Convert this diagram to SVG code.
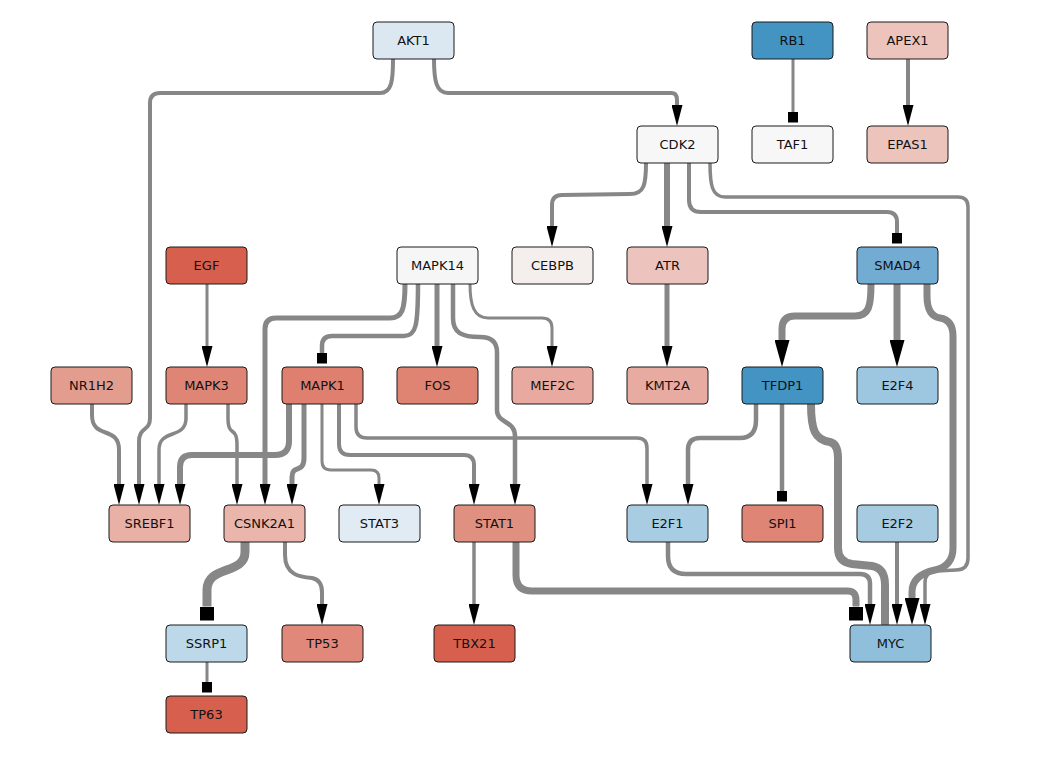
<svg xmlns="http://www.w3.org/2000/svg" width="1038" height="760" viewBox="0 0 1038 760">
<style>
.n rect{stroke:#1a1a1a;stroke-width:1}
.n text{font-family:"DejaVu Sans","Liberation Sans",sans-serif;font-size:13px;text-anchor:middle;dominant-baseline:central;fill:#111}
#edges path{fill:none;stroke:#878787}
.w3{stroke-width:3}.w35{stroke-width:3.5}.w4{stroke-width:4}.w45{stroke-width:4.5}.w5{stroke-width:5}.w6{stroke-width:6}.w7{stroke-width:7}.w8{stroke-width:8}.w9{stroke-width:9}
.a{marker-end:url(#arr)}.A{marker-end:url(#arrB)}.s{marker-end:url(#sq)}.S{marker-end:url(#sqB)}
</style>
<defs>
<marker id="arr" markerUnits="userSpaceOnUse" viewBox="0 0 21 11" markerWidth="21" markerHeight="11" refX="0" refY="5.5" orient="auto"><path d="M0,0 L21,5.5 L0,11 z" fill="#000"/></marker>
<marker id="arrB" markerUnits="userSpaceOnUse" viewBox="0 0 27 15" markerWidth="27" markerHeight="15" refX="0" refY="7.5" orient="auto"><path d="M0,0 L27,7.5 L0,15 z" fill="#000"/></marker>
<marker id="sq" markerUnits="userSpaceOnUse" viewBox="0 0 10.5 10.5" markerWidth="10.5" markerHeight="10.5" refX="0" refY="5.25" orient="auto"><rect x="0" y="0" width="10.5" height="10.5" fill="#000"/></marker>
<marker id="sqB" markerUnits="userSpaceOnUse" viewBox="0 0 14 14" markerWidth="14" markerHeight="14" refX="0" refY="7" orient="auto"><rect x="0" y="0" width="14" height="14" fill="#000"/></marker>
</defs>
<rect width="1038" height="760" fill="#fff"/>
<g id="edges">
<path class="w4 a" d="M393,59 C393,80 392,93 380,93 L160,93 Q150,93 150,103 L150,418 C150,432 139,426 139,442 L139,484"/>
<path class="w4 a" d="M434,59 C434,80 436,93 448,93 L670,93 Q677,92 677,100 L677,105"/>
<path class="w3 s" d="M793,59 L793,112"/>
<path class="w4 a" d="M908,59 L908,105"/>
<path class="w4 a" d="M646,163 C646,185 644,194 630,194 L562,195 Q552,195 552,205 L552,226"/>
<path class="w6 a" d="M667,163 L667,226"/>
<path class="w4 s" d="M689,163 L689,200 Q689,212 701,212 L887,212 Q897,212 897,222 L897,233"/>
<path class="w35 a" d="M710,163 C710,185 712,197 725,197 L958,197 Q968,197 968,207 L968,558 Q968,570 956,570 L937,571 Q925,571 925,583 L925,604"/>
<path class="w3 a" d="M207,284 L207,346"/>
<path class="w5 a" d="M405,284 C405,310 402,318 390,318 L276,318 Q265,318 265,329 L265,484"/>
<path class="w45 s" d="M418,284 C418,326 416,336 404,336 L332,336 Q322,336 322,346 L322,353"/>
<path class="w5 a" d="M437,284 L437,346"/>
<path class="w45 a" d="M453,284 L453,318 C453,333 462,337 480,337 Q497,337 497,352 L497,410 C497,424 515,420 515,436 L515,484"/>
<path class="w3 a" d="M470,284 C470,305 474,318 488,318 L542,318 Q552,318 552,328 L552,346"/>
<path class="w5 a" d="M667,284 L667,346"/>
<path class="w7 A" d="M871,284 C871,306 869,316 855,316 L795,316 Q782,316 782,329 L782,340"/>
<path class="w7 A" d="M897,284 L897,340"/>
<path class="w7 A" d="M927,284 L927,296 Q927,316 940,318 Q953,320 953,336 L953,548 Q953,566 935,570 Q912,575 912,592 L912,598"/>
<path class="w4 a" d="M92,404 L92,415 C92,440 119,425 119,450 L119,484"/>
<path class="w35 a" d="M186,404 L186,418 C186,440 159,428 159,450 L159,484"/>
<path class="w35 a" d="M228,404 L228,418 C228,438 237,425 237,445 L237,484"/>
<path class="w6 a" d="M289,404 L289,441 Q289,455 275,455 L192,455 Q180,455 180,467 L180,484"/>
<path class="w5 a" d="M304,404 L304,458 C304,474 292,464 292,477 L292,484"/>
<path class="w3 a" d="M322,404 L322,461 Q322,470 331,470 L371,470 Q379,470 379,478 L379,484"/>
<path class="w4 a" d="M339,404 L339,444 Q339,455 350,455 L464,455 Q474,455 474,465 L474,484"/>
<path class="w35 a" d="M356,404 L356,427 Q356,438 367,438 L637,438 Q647,438 647,448 L647,484"/>
<path class="w45 a" d="M756,404 L756,420 Q756,438 740,438 L700,438 Q688,438 688,450 L688,484"/>
<path class="w45 s" d="M782,404 L782,491"/>
<path class="w8" d="M811,404 C811,430 815,440 830,442 Q838,444 838,458 L838,548 Q838,562 852,564 L872,566 Q885,568 885,585 L885,625"/>
<path class="w7 S" d="M516,542 L516,575 Q516,591 532,591 L846,591 Q856,590 856,600 L856,606.5"/>
<path class="w45 a" d="M668,542 L668,556 Q668,574 686,574 L860,574 Q870,574 870,584 L870,604"/>
<path class="w4 a" d="M897,542 L897,604"/>
<path class="w9 S" d="M245,542 L245,552 C245,575 207,565 207,590 L207,606.5"/>
<path class="w4 a" d="M285,542 L285,555 C285,575 300,577 312,578 Q322,580 322,592 L322,604"/>
<path class="w3 s" d="M207,662 L207,682"/>
<path class="w35 a" d="M474,542 L474,604"/>
</g>
<g id="AKT1" class="n"><rect x="373" y="22" width="81" height="37" rx="4" fill="#dbe8f1"/><text x="413.5" y="40.5">AKT1</text></g>
<g id="RB1" class="n"><rect x="752" y="22" width="81" height="37" rx="4" fill="#4393c3"/><text x="792.5" y="40.5">RB1</text></g>
<g id="APEX1" class="n"><rect x="867" y="22" width="81" height="37" rx="4" fill="#edc4bc"/><text x="907.5" y="40.5">APEX1</text></g>
<g id="CDK2" class="n"><rect x="637" y="126" width="81" height="37" rx="4" fill="#f7f7f7"/><text x="677.5" y="144.5">CDK2</text></g>
<g id="TAF1" class="n"><rect x="752" y="126" width="81" height="37" rx="4" fill="#f7f7f7"/><text x="792.5" y="144.5">TAF1</text></g>
<g id="EPAS1" class="n"><rect x="867" y="126" width="81" height="37" rx="4" fill="#edc4bc"/><text x="907.5" y="144.5">EPAS1</text></g>
<g id="EGF" class="n"><rect x="166" y="247" width="81" height="37" rx="4" fill="#d6604d"/><text x="206.5" y="265.5">EGF</text></g>
<g id="MAPK14" class="n"><rect x="397" y="247" width="81" height="37" rx="4" fill="#f7f6f6"/><text x="437.5" y="265.5">MAPK14</text></g>
<g id="CEBPB" class="n"><rect x="512" y="247" width="81" height="37" rx="4" fill="#f4efed"/><text x="552.5" y="265.5">CEBPB</text></g>
<g id="ATR" class="n"><rect x="627" y="247" width="81" height="37" rx="4" fill="#ecc4bd"/><text x="667.5" y="265.5">ATR</text></g>
<g id="SMAD4" class="n"><rect x="857" y="247" width="81" height="37" rx="4" fill="#73acd3"/><text x="897.5" y="265.5">SMAD4</text></g>
<g id="NR1H2" class="n"><rect x="51" y="367" width="81" height="37" rx="4" fill="#e29d8f"/><text x="91.5" y="385.5">NR1H2</text></g>
<g id="MAPK3" class="n"><rect x="166" y="367" width="81" height="37" rx="4" fill="#df8575"/><text x="206.5" y="385.5">MAPK3</text></g>
<g id="MAPK1" class="n"><rect x="282" y="367" width="81" height="37" rx="4" fill="#de7f6f"/><text x="322.5" y="385.5">MAPK1</text></g>
<g id="FOS" class="n"><rect x="397" y="367" width="81" height="37" rx="4" fill="#df8373"/><text x="437.5" y="385.5">FOS</text></g>
<g id="MEF2C" class="n"><rect x="512" y="367" width="81" height="37" rx="4" fill="#e8aaa0"/><text x="552.5" y="385.5">MEF2C</text></g>
<g id="KMT2A" class="n"><rect x="627" y="367" width="81" height="37" rx="4" fill="#e8aba1"/><text x="667.5" y="385.5">KMT2A</text></g>
<g id="TFDP1" class="n"><rect x="742" y="367" width="81" height="37" rx="4" fill="#4393c3"/><text x="782.5" y="385.5">TFDP1</text></g>
<g id="E2F4" class="n"><rect x="857" y="367" width="81" height="37" rx="4" fill="#9dc6e0"/><text x="897.5" y="385.5">E2F4</text></g>
<g id="SREBF1" class="n"><rect x="109" y="505" width="81" height="37" rx="4" fill="#e9b0a6"/><text x="149.5" y="523.5">SREBF1</text></g>
<g id="CSNK2A1" class="n"><rect x="224" y="505" width="81" height="37" rx="4" fill="#eab6ac"/><text x="264.5" y="523.5">CSNK2A1</text></g>
<g id="STAT3" class="n"><rect x="339" y="505" width="81" height="37" rx="4" fill="#e1ebf3"/><text x="379.5" y="523.5">STAT3</text></g>
<g id="STAT1" class="n"><rect x="454" y="505" width="81" height="37" rx="4" fill="#e09080"/><text x="494.5" y="523.5">STAT1</text></g>
<g id="E2F1" class="n"><rect x="627" y="505" width="81" height="37" rx="4" fill="#a8cce2"/><text x="667.5" y="523.5">E2F1</text></g>
<g id="SPI1" class="n"><rect x="742" y="505" width="81" height="37" rx="4" fill="#df8576"/><text x="782.5" y="523.5">SPI1</text></g>
<g id="E2F2" class="n"><rect x="857" y="505" width="81" height="37" rx="4" fill="#a7cbe1"/><text x="897.5" y="523.5">E2F2</text></g>
<g id="SSRP1" class="n"><rect x="166" y="625" width="81" height="37" rx="4" fill="#bcd8e9"/><text x="206.5" y="643.5">SSRP1</text></g>
<g id="TP53" class="n"><rect x="282" y="625" width="81" height="37" rx="4" fill="#e0897a"/><text x="322.5" y="643.5">TP53</text></g>
<g id="TBX21" class="n"><rect x="434" y="625" width="81" height="37" rx="4" fill="#d6604d"/><text x="474.5" y="643.5">TBX21</text></g>
<g id="MYC" class="n"><rect x="850" y="625" width="81" height="37" rx="4" fill="#8fbfdb"/><text x="890.5" y="643.5">MYC</text></g>
<g id="TP63" class="n"><rect x="166" y="696" width="81" height="37" rx="4" fill="#d6604d"/><text x="206.5" y="714.5">TP63</text></g>
</svg>
